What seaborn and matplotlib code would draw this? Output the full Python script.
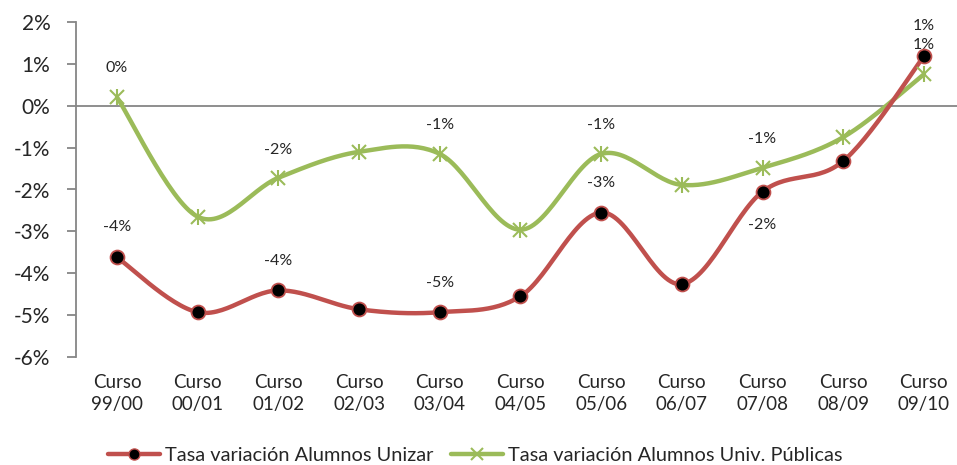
import numpy as np
import pandas as pd
import matplotlib
matplotlib.use("Agg")
import matplotlib.pyplot as plt
from matplotlib.lines import Line2D
import seaborn as sns

# data (percent change)
cursos = ["99/00", "00/01", "01/02", "02/03", "03/04", "04/05",
          "05/06", "06/07", "07/08", "08/09", "09/10"]
unizar = [-3.62, -4.93, -4.41, -4.86, -4.93, -4.55, -2.55, -4.26, -2.05, -1.32, 1.18]
publicas = [0.20, -2.65, -1.72, -1.10, -1.15, -2.96, -1.15, -1.89, -1.48, -0.75, 0.75]
labelled = [0, 2, 4, 6, 8, 10]
# label offsets in points (y), per labelled point
unizar_off = [22, 21, 21, 21, -24, 8]
publicas_off = [21, 20, 21, 21, 21, 35]

RED = "#C0504D"
GREEN = "#9BBB59"
GRAY = "#868686"


def smooth(y, n=30):
    # Excel-like smoothed line (Catmull-Rom via cubic Bezier)
    x = np.arange(len(y), dtype=float)
    y = np.asarray(y, dtype=float)
    pts = np.column_stack([x, y])
    out = []
    for i in range(len(pts) - 1):
        p0 = pts[max(i - 1, 0)]
        p1 = pts[i]
        p2 = pts[i + 1]
        p3 = pts[min(i + 2, len(pts) - 1)]
        c1 = p1 + (p2 - p0) / 6
        c2 = p2 - (p3 - p1) / 6
        t = np.linspace(0, 1, n, endpoint=(i == len(pts) - 2))[:, None]
        seg = ((1 - t) ** 3) * p1 + 3 * ((1 - t) ** 2) * t * c1 + 3 * (1 - t) * t ** 2 * c2 + t ** 3 * p2
        out.append(seg)
    out = np.vstack(out)
    return pd.DataFrame({"x": out[:, 0], "y": out[:, 1]})


sns.set_style("white")
plt.rcParams["font.family"] = ["Lato", "DejaVu Sans"]

fig = plt.figure(figsize=(9.57, 4.65), dpi=100)
ax = fig.add_axes([76 / 957, 108 / 465, (957 - 76) / 957, (357 - 22) / 465])

sns.lineplot(data=smooth(unizar), x="x", y="y", sort=False, color=RED, lw=3.2, ax=ax, zorder=3)
sns.lineplot(data=smooth(publicas), x="x", y="y", sort=False, color=GREEN, lw=3.2, ax=ax, zorder=2)

xs = np.arange(len(cursos))
ax.plot(xs, unizar, ls="none", marker="o", ms=10, mfc="black", mec=RED, mew=1.3, zorder=5)
ax.plot(xs, publicas, ls="none", marker="x", ms=10, mec=GREEN, mew=1.5, zorder=4)
ax.plot(xs, publicas, ls="none", marker="|", ms=12, mec=GREEN, mew=1.5, zorder=4)

for i, off in zip(labelled, unizar_off):
    ax.annotate(f"{round(unizar[i]):.0f}%", (xs[i], unizar[i]), xytext=(0, off),
                textcoords="offset points", ha="center", va="center", fontsize=11.5)
for i, off in zip(labelled, publicas_off):
    ax.annotate(f"{round(publicas[i]):.0f}%", (xs[i], publicas[i]), xytext=(0, off),
                textcoords="offset points", ha="center", va="center", fontsize=11.5)

ax.set_xlim(-0.508, 10.41)
ax.set_ylim(-6, 2)
ax.set_yticks(range(-6, 3))
ax.set_yticklabels([f"{v}%" for v in range(-6, 3)], fontsize=15)
ax.set_xticks(xs)
ax.set_xticklabels([f"Curso\n{c}" for c in cursos], fontsize=13.5, linespacing=1.35)
ax.set_xlabel("")
ax.set_ylabel("")
ax.axhline(0, color=GRAY, lw=1.3, zorder=1)

for s in ["top", "right", "bottom"]:
    ax.spines[s].set_visible(False)
ax.spines["left"].set_color(GRAY)
ax.spines["left"].set_linewidth(1.3)
ax.tick_params(axis="y", length=6.5, width=1.3, color=GRAY, pad=12, left=True)
ax.tick_params(axis="x", length=0, pad=12)

handles = [
    Line2D([], [], color=RED, lw=3.2, marker="o", ms=8, mfc="black", mec=RED),
    Line2D([], [], color=GREEN, lw=3.2, marker="x", ms=8, mec=GREEN, mew=1.5),
]
fig.legend(handles, ["Tasa variación Alumnos Unizar", "Tasa variación Alumnos Univ. Públicas"],
           loc="center", bbox_to_anchor=(475 / 957, 1 - 455 / 465), ncol=2, frameon=False,
           fontsize=14.4, handlelength=2.6, handletextpad=0.25, columnspacing=0.9)

fig.savefig("out.png", dpi=100)
